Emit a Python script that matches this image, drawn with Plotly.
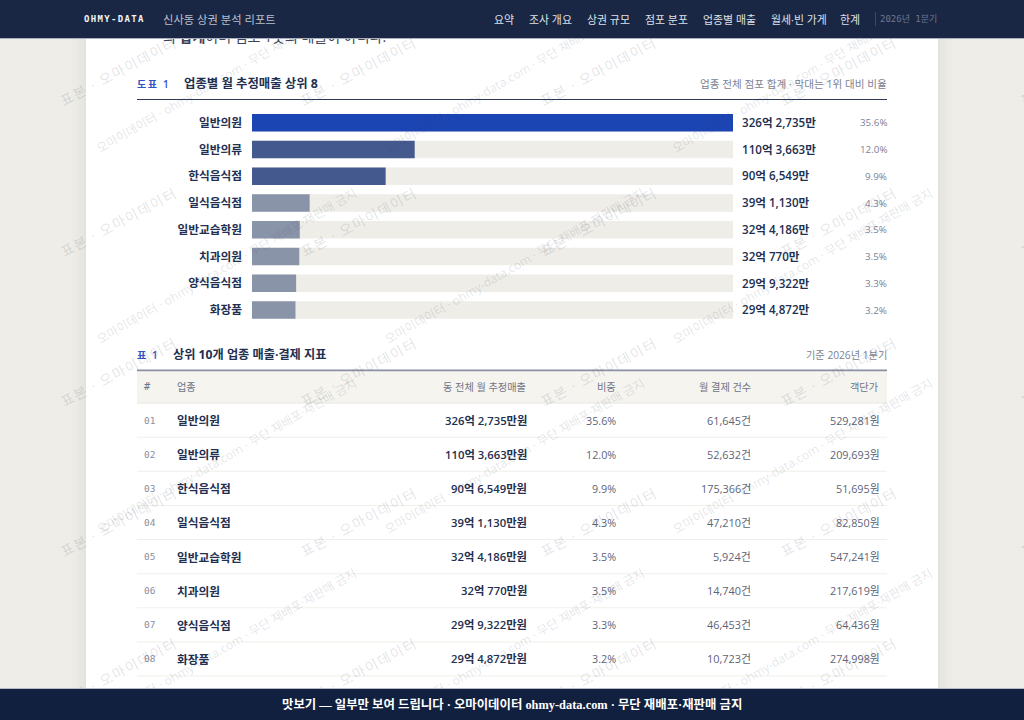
import plotly.graph_objects as go

# ---- data ----
categories = ["일반의원", "일반의류", "한식음식점", "일식음식점", "일반교습학원", "치과의원", "양식음식점", "화장품"]
revenue_man = [3262735, 1103663, 906549, 391130, 324186, 320770, 299322, 294872]
share_pct = [35.6, 12.0, 9.9, 4.3, 3.5, 3.5, 3.3, 3.2]
payments = [61645, 52632, 175366, 47210, 5924, 14740, 46453, 10723]
avg_price = [529281, 209693, 51695, 82850, 547241, 217619, 64436, 274998]
bar_colors = ["#1c45b4", "#445a8e", "#445a8e", "#8a94a9", "#8a94a9", "#8a94a9", "#8a94a9", "#8a94a9"]
nav_items = [("요약", 494), ("조사 개요", 529), ("상권 규모", 587), ("점포 분포", 645),
             ("업종별 매출", 703), ("월세·빈 가게", 771), ("한계", 840)]
table_headers = [("#", 144, "left"), ("업종", 177, "left"), ("동 전체 월 추정매출", 526, "right"),
                 ("비중", 616, "right"), ("월 결제 건수", 751, "right"), ("객단가", 879, "right")]

SANS = "Open Sans, Noto Sans CJK KR, sans-serif"
MONO = "DejaVu Sans Mono, Noto Sans CJK KR, monospace"
SERIF = "Liberation Serif, Noto Sans CJK KR, serif"
NAVY = "#1a2744"
INK = "#222f50"
FOOT = "#12203f"
GREY = "#7c8294"
PAGE = "#eeede8"
W, H = 1024, 720


def fx(x):
    return x / W


def fy(y):
    return 1 - y / H


def money(v):
    return f"{v // 10000}억 {v % 10000:,}만"


def spaced(s, sp="\u200a"):
    return sp.join(s)


shapes = []
annots = []


def rect(x0, y0, x1, y1, color, layer="below"):
    shapes.append(dict(type="rect", xref="paper", yref="paper", x0=fx(x0), x1=fx(x1), y0=fy(y0), y1=fy(y1),
                       fillcolor=color, line=dict(width=0), layer=layer))


def text(x, y, s, size=12, color=INK, anchor="left", weight=400, family=SANS, angle=0):
    annots.append(dict(xref="paper", yref="paper", x=fx(x), y=fy(y), text=s, showarrow=False,
                       xanchor=anchor, yanchor="middle", textangle=angle, borderpad=0, borderwidth=0,
                       font=dict(size=size, color=color, weight=weight, family=family)))


def cover(x0, y0, x1, y1, color):
    annots.append(dict(xref="paper", yref="paper", x=fx(x0), y=fy(y0), text=" ", showarrow=False,
                       xanchor="left", yanchor="top", width=x1 - x0, height=y1 - y0, bgcolor=color,
                       borderpad=0, borderwidth=0, font=dict(size=1)))


# page, sheet shadow, sheet
for k in (14, 10, 7, 4, 2, 1):
    rect(86 - k, 0, 938 + k, H, "rgba(50,50,50,0.009)")
rect(86, 0, 938, H, "#ffffff")

# cut-off intro sentence
text(163, 36.5, "의 <b>합계</b>이며 점포 1곳의 매출이 아니다.", size=14, color="#3c4358")

# figure caption
text(137, 84, spaced("도표 1", "\u2009"), size=10, color="#2f55c4", weight=600)
text(184, 83.5, "업종별 월 추정매출 상위 8", size=12.4, weight=700)
text(887, 83.5, "업종 전체 점포 합계 · 막대는 1위 대비 비율", size=10.6, color=GREY, anchor="right")
rect(137, 99, 887, 100, "#2e3a58")

# bar-value labels
for i, (v, p) in enumerate(zip(revenue_man, share_pct)):
    y = 122.4 + i * 26.77
    text(742, y, money(v), size=11.6, weight=600)
    text(887, y + 0.5, f"{p:.1f}%", size=9.8, color=GREY, anchor="right")

# table caption
text(137, 355, spaced("표 1", "\u2009"), size=10, color="#2f55c4", weight=600)
text(173, 354, "상위 10개 업종 매출·결제 지표", size=12.2, weight=700)
text(887, 354.5, "기준 2026년 1분기", size=10.2, color=GREY, anchor="right")

# table frame
rect(137, 369.5, 887, 371.5, "#8a90a3")
rect(137, 371.5, 887, 402.5, "#f5f4ef")
rect(137, 402.5, 887, 403.5, "#e6e4dc")
for label, x, a in table_headers:
    text(x, 386.5, label, size=10.2, color="#6f7588", anchor=a,
         family=MONO if label == "#" else SANS)

for i in range(len(categories)):
    y = 420 + i * 34.13
    rect(137, y + 16.7, 887, y + 17.7, "#f0efea")
    text(144, y, f"{i + 1:02d}", size=9.5, color="#8a8f9e", family=MONO)
    text(177, y, categories[i], size=11.7, weight=600)
    text(526.5, y, money(revenue_man[i]) + "원", size=11.3, weight=600, anchor="right")
    text(616, y, f"{share_pct[i]:.1f}%", size=10.8, color="#5d6478", anchor="right")
    text(751, y, f"{payments[i]:,}건", size=10.9, color="#5d6478", anchor="right")
    text(879.5, y, f"{avg_price[i]:,}원", size=10.8, color="#5d6478", anchor="right")

# watermark layers
WM = "rgba(50,55,75,0.14)"
for cy in (72, 222, 372, 522, 672):
    for cx in (118, 358, 598, 838, 1078):
        text(cx, cy, spaced("표본 · 오마이데이터", "\u200a"), size=14, color=WM, anchor="center", angle=-28)
for cy in (76, 266, 456, 646):
    for cx in (226, 514, 802):
        text(cx, cy, "오마이데이터 · ohmy-data.com · 무단 재배포·재판매 금지", size=12.2, color=WM,
             anchor="center", angle=-30)

# header bar
cover(0, 0, W, 39, "#aab0bd")
cover(0, 0, W, 38, NAVY)
text(84, 19, '<span style="font-size:2.2px"> </span>'.join("OHMY-DATA"), size=9, color="#f2f3f6",
     weight=700, family=MONO)
text(163, 19, "신사동 상권 분석 리포트", size=11.3, color="#b9bfcd")
for label, x in nav_items:
    text(x, 19, label, size=10.9, color="#dde0e8")
cover(875, 12, 876, 26, "#3b4763")
text(880, 19, "2026년 1분기", size=9, color="#6d7690", family=MONO)

# footer bar
cover(0, 688, W, 720, "#b8bcc6")
cover(0, 689, W, 720, FOOT)
text(512, 704, "맛보기 — 일부만 보여 드립니다 · 오마이데이터 ohmy-data.com · 무단 재배포·재판매 금지",
     size=12.4, color="#ffffff", anchor="center", weight=700, family=SERIF)

fig = go.Figure()
fig.add_bar(y=categories, x=[max(revenue_man)] * len(categories), orientation="h",
            marker=dict(color="#eeede8", line=dict(width=0)), hoverinfo="skip")
fig.add_bar(y=categories, x=revenue_man, orientation="h",
            marker=dict(color=bar_colors, line=dict(width=0)))
fig.update_layout(
    width=W, height=H, margin=dict(l=0, r=0, t=0, b=0), autosize=False,
    paper_bgcolor=PAGE, plot_bgcolor="rgba(0,0,0,0)", showlegend=False,
    barmode="overlay", bargap=0.345, shapes=shapes, annotations=annots,
    xaxis=dict(domain=[fx(252), fx(733)], range=[0, max(revenue_man)], visible=False, fixedrange=True),
    yaxis=dict(domain=[fy(109.3 + 8 * 26.77), fy(109.3)], type="category", categoryorder="array",
               categoryarray=categories, autorange="reversed", fixedrange=True, showgrid=False,
               showline=False, ticks="", ticklabelstandoff=9,
               tickfont=dict(size=11.7, color=INK, weight=600, family=SANS)),
)
fig.write_html("out.html", config={"displayModeBar": False},
               post_script="document.body.style.margin='0';document.body.style.overflow='hidden';")
